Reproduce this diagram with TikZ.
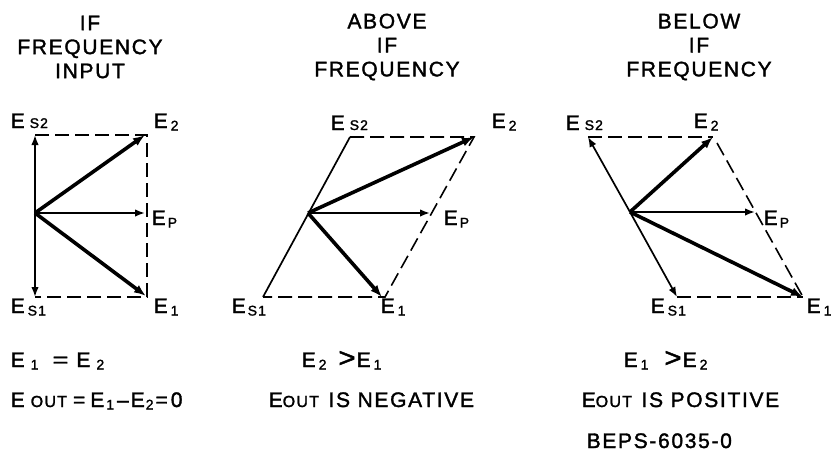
\documentclass[tikz,border=0pt]{standalone}
\usepackage{fontspec}
\setmainfont[LetterSpace=8,FakeBold=1.6]{Liberation Sans}
\usetikzlibrary{arrows.meta}
\newcommand\bigf{\fontsize{21}{24}\selectfont}
\newcommand\subf{\fontsize{14}{14}\selectfont}
\newcommand\outf{\fontsize{16}{16}\selectfont}
\newcommand\sbs[1]{\raisebox{-2.5pt}{\subf #1}}
\begin{document}
\begin{tikzpicture}[x=1pt,y=-1pt,
  thinvec/.style={line width=1.7pt,-{Latex[length=10pt,width=7.5pt]}},
  thickvec/.style={line width=3.6pt,-{Latex[length=12pt,width=9pt]}},
  plainline/.style={line width=1.7pt},
  dashline/.style={line width=1.6pt,dash pattern=on 14pt off 6pt},
  title/.style={font=\bigf,align=center,inner sep=0pt},
  lab/.style={font=\bigf,anchor=base west,inner sep=0pt},
  txt/.style={font=\bigf,anchor=base west,inner sep=0pt}]
\useasboundingbox (0,0) rectangle (831,453);
% titles
\node[title] (t1) at (90,47) {IF\\FREQUENCY\\INPUT};
\node[title] (t2) at (387,47) {ABOVE\\IF\\FREQUENCY};
\node[title] (t3) at (699,47) {BELOW\\IF\\FREQUENCY};
% ---------- panel 1
\coordinate (o1) at (35,213);
\coordinate (p1s2) at (35,135);
\coordinate (p1s1) at (35,297);
\coordinate (p1e2) at (145,135);
\coordinate (p1e1) at (146,296);
\coordinate (p1ep) at (145,213);
\coordinate (p1c2) at (147,135);
\coordinate (p1c1) at (147,297);
\draw[dashline] (p1s2) -- (p1c2) -- (p1c1) -- (p1s1);
\draw[thinvec] (o1) -- (p1s2);
\draw[thinvec] (o1) -- (p1s1);
\draw[thinvec] (o1) -- (p1ep);
\draw[thickvec] (o1) -- (p1e2);
\draw[thickvec] (o1) -- (p1e1);
\node[lab] (l1s2) at (10.5,128) {E\kern5pt{\subf S2}};
\node[lab] (l1e2) at (153.5,128) {E\kern3pt\sbs{2}};
\node[lab] (l1ep) at (151.5,225) {E\kern2pt\sbs{P}};
\node[lab] (l1s1) at (10.5,313) {E\kern3pt\sbs{S1}};
\node[lab] (l1e1) at (153.5,313) {E\kern3pt\sbs{1}};
% ---------- panel 2
\coordinate (o2) at (308,213);
\coordinate (p2s2) at (350,137);
\coordinate (p2s1) at (263,297);
\coordinate (p2e2) at (474,137);
\coordinate (p2e1) at (382,297);
\coordinate (p2c1) at (385,297);
\coordinate (p2ep) at (430,213);
\draw[dashline] (p2s2) -- (p2e2) -- (p2c1) -- (p2s1);
\draw[plainline] (p2s1) -- (p2s2);
\draw[thinvec] (o2) -- (p2ep);
\draw[thickvec] (o2) -- (p2e2);
\draw[thickvec] (o2) -- (p2e1);
\node[lab] (l2s2) at (330.5,130) {E\kern5pt{\subf S2}};
\node[lab] (l2e2) at (491.5,128) {E\kern3pt\sbs{2}};
\node[lab] (l2ep) at (443.5,225) {E\kern2pt\sbs{P}};
\node[lab] (l2s1) at (231.5,313) {E\kern2pt\sbs{S1}};
\node[lab] (l2e1) at (380.5,313) {E\kern3pt\sbs{1}};
% ---------- panel 3
\coordinate (o3) at (630,212);
\coordinate (p3s2) at (588,137);
\coordinate (p3e2) at (713,137);
\coordinate (p3ep) at (755,212);
\coordinate (p3e1) at (803,297);
\coordinate (p3s1) at (677,297);
\coordinate (p3c2) at (717,143);
\draw[dashline] (p3s2) -- (p3e2);
\draw[dashline] (p3c2) -- (p3e1);
\draw[dashline] (p3s1) -- (p3e1);
\draw[thinvec] (o3) -- (p3s2);
\draw[thinvec] (o3) -- (p3s1);
\draw[thinvec] (o3) -- (p3ep);
\draw[thickvec] (o3) -- (p3e2);
\draw[thickvec] (o3) -- (p3e1);
\node[lab] (l3s2) at (565.5,130) {E\kern5pt{\subf S2}};
\node[lab] (l3e2) at (693.5,128) {E\kern3pt\sbs{2}};
\node[lab] (l3ep) at (763.5,225) {E\kern2pt\sbs{P}};
\node[lab] (l3s1) at (650.5,313) {E\kern3pt\sbs{S1}};
\node[lab] (l3e1) at (806.5,313) {E\kern3pt\sbs{1}};
% ---------- bottom text
\node[txt] (b1) at (10.5,367) {E\kern6pt\sbs{1}\hspace{14pt}\scalebox{1.3}[1]{=}\hspace{8pt}E\kern6pt\sbs{2}};
\node[txt] (b2) at (10.5,407) {E\kern6pt{\outf OUT}\kern6pt=\kern5pt E\kern2pt\sbs{1}\kern3pt--\kern2pt E\kern1pt\sbs{2}\kern2pt=\kern3pt 0};
\node[txt] (b3) at (301.5,367) {E\kern3pt\sbs{2}\hspace{12pt}\scalebox{1.4}[1.3]{>}\kern1pt E\kern3pt\sbs{1}};
\node[txt] (b4) at (268.5,407) {E{\outf OUT}\kern2pt\ IS NEGATIVE};
\node[txt] (b5) at (623.5,367) {E\kern3pt\sbs{1}\hspace{16pt}\scalebox{1.4}[1.3]{>}\kern1pt E\kern3pt\sbs{2}};
\node[txt] (b6) at (581.5,407) {E{\outf OUT}\kern2pt\ IS POSITIVE};
\node[txt] (b7) at (586.5,448) {BEPS-6035-0};
\end{tikzpicture}
\end{document}
